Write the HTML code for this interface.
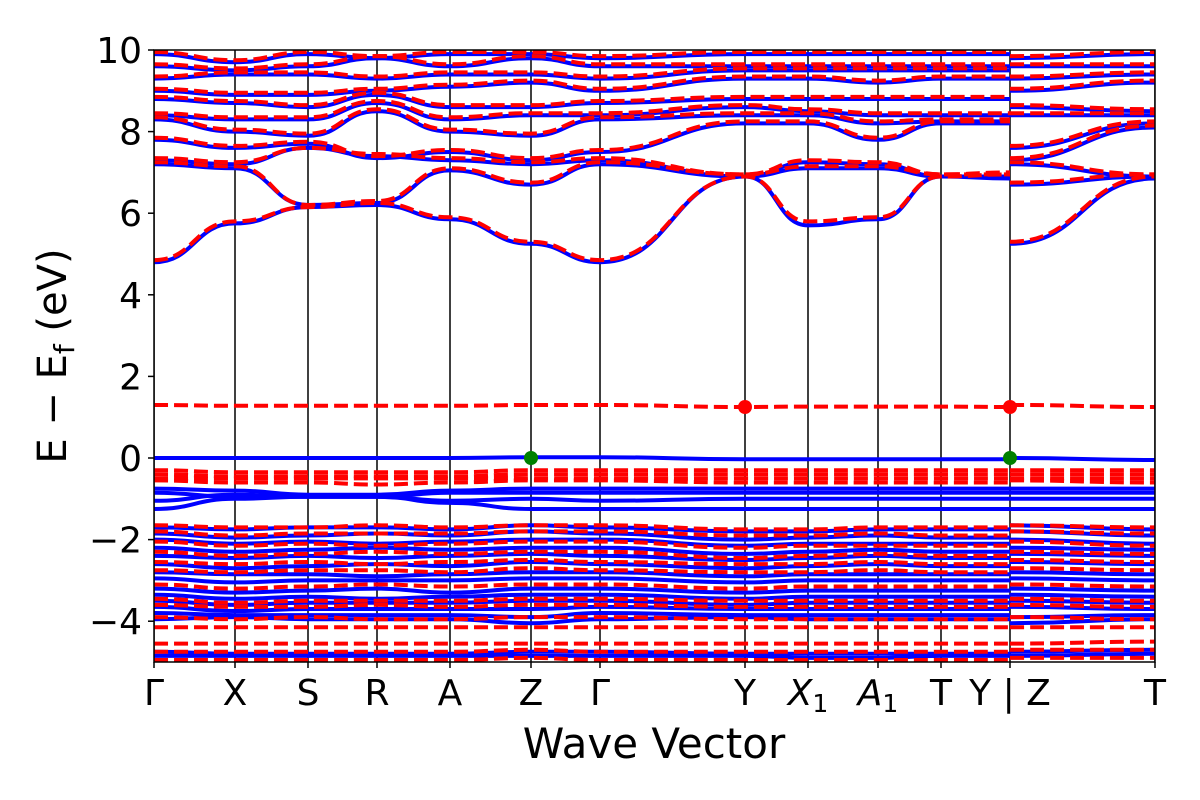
<!DOCTYPE html>
<html><head><meta charset="utf-8">
<style>
html,body{margin:0;padding:0;background:#fff;}
svg{display:block;font-family:"DejaVu Sans","Liberation Sans",sans-serif;}
</style></head>
<body>
<svg id="chart" width="1200" height="800" viewBox="0 0 1200 800" xmlns="http://www.w3.org/2000/svg">
<defs><clipPath id="clip"><rect x="154" y="50" width="1001" height="612"/></clipPath></defs>
<g id="plot" clip-path="url(#clip)"></g>
<g id="axes"></g>
</svg>
<script>
// k-path coordinates (path distance) for high-symmetry points; first 12 up to Y, then Z,T segment
const kLabels = ["Γ","X","S","R","A","Z","Γ","Y","X1","A1","T","Y | Z","T"];
const kPos = [0,0.81,1.54,2.23,2.96,3.77,4.46,5.91,6.54,7.24,7.87,8.56,10.01];
const yTicks = [-4,-2,0,2,4,6,8,10];
// bands: 12 values (Γ..Y) + 2 values (Z,T)
const blueBands = [
[4.8,5.75,6.15,6.2,5.85,5.25,4.8,6.9,5.7,5.85,6.9,6.85,5.25,6.85],
[7.2,7.1,6.2,6.25,7.05,6.7,7.2,6.9,7.1,7.1,6.9,6.9,6.7,6.9],
[7.3,7.2,7.6,7.4,7.3,7.2,7.3,6.9,7.25,7.2,6.9,6.9,7.2,6.9],
[7.8,7.6,7.7,7.35,7.5,7.3,7.5,8.2,8.2,7.8,8.2,8.2,7.3,8.1],
[8.3,8.0,7.9,8.5,8.0,7.9,8.3,8.4,8.4,8.2,8.25,8.25,7.6,8.2],
[8.4,8.3,8.3,8.7,8.3,8.4,8.4,8.6,8.5,8.4,8.4,8.4,8.4,8.4],
[8.8,8.7,8.6,8.9,8.6,8.6,8.7,8.8,8.8,8.8,8.8,8.8,8.6,8.5],
[9.0,8.9,8.9,9.0,9.1,9.2,9.0,9.3,9.3,9.2,9.3,9.3,9.0,9.2],
[9.3,9.4,9.4,9.3,9.4,9.4,9.3,9.5,9.5,9.5,9.5,9.5,9.3,9.4],
[9.6,9.5,9.6,9.8,9.6,9.8,9.6,9.6,9.6,9.6,9.6,9.6,9.6,9.6],
[9.9,9.7,9.9,9.8,9.9,9.9,9.8,9.9,9.9,9.9,9.9,9.9,9.8,9.9],
[0,0,0,0,0,0.02,0.02,-0.03,-0.03,-0.03,-0.03,-0.03,0,-0.05],
[-0.75,-0.8,-0.9,-0.9,-0.8,-0.75,-0.75,-0.75,-0.75,-0.75,-0.75,-0.75,-0.75,-0.75],
[-0.85,-0.95,-0.95,-0.95,-0.85,-0.85,-0.85,-0.85,-0.85,-0.85,-0.85,-0.85,-0.85,-0.85],
[-1.05,-0.9,-0.95,-0.95,-1.05,-1.0,-1.05,-1.0,-1.0,-1.0,-1.0,-1.0,-1.0,-1.0],
[-1.25,-1.0,-0.95,-0.95,-1.1,-1.25,-1.25,-1.25,-1.25,-1.25,-1.25,-1.25,-1.25,-1.25],
[-1.7,-1.75,-1.7,-1.7,-1.75,-1.65,-1.7,-1.8,-1.8,-1.75,-1.75,-1.75,-1.65,-1.75],
[-1.85,-1.95,-1.9,-1.85,-1.9,-1.8,-1.85,-2.0,-1.95,-1.9,-1.95,-1.95,-1.8,-1.9],
[-2.0,-2.1,-2.05,-2.1,-2.05,-2.0,-2.0,-2.15,-2.1,-2.1,-2.1,-2.1,-2.0,-2.1],
[-2.2,-2.3,-2.25,-2.2,-2.25,-2.2,-2.2,-2.35,-2.3,-2.25,-2.3,-2.3,-2.2,-2.25],
[-2.4,-2.45,-2.4,-2.45,-2.4,-2.35,-2.4,-2.5,-2.45,-2.4,-2.45,-2.45,-2.35,-2.4],
[-2.6,-2.7,-2.65,-2.6,-2.65,-2.55,-2.6,-2.7,-2.65,-2.6,-2.65,-2.65,-2.55,-2.6],
[-2.8,-2.85,-2.85,-2.9,-2.85,-2.8,-2.8,-2.9,-2.85,-2.85,-2.85,-2.85,-2.8,-2.85],
[-2.95,-3.05,-3.0,-3.0,-3.0,-2.95,-2.95,-3.05,-3.0,-3.0,-3.0,-3.0,-2.95,-3.0],
[-3.2,-3.3,-3.25,-3.2,-3.3,-3.2,-3.2,-3.3,-3.25,-3.25,-3.25,-3.25,-3.2,-3.25],
[-3.35,-3.45,-3.4,-3.45,-3.4,-3.35,-3.35,-3.45,-3.4,-3.4,-3.4,-3.4,-3.35,-3.4],
[-3.5,-3.6,-3.55,-3.55,-3.55,-3.5,-3.5,-3.6,-3.55,-3.55,-3.55,-3.55,-3.5,-3.55],
[-3.65,-3.75,-3.7,-3.7,-3.7,-3.7,-3.65,-3.7,-3.7,-3.7,-3.7,-3.7,-3.65,-3.7],
[-3.8,-3.85,-3.85,-3.85,-3.85,-3.9,-3.8,-3.85,-3.85,-3.85,-3.85,-3.85,-3.9,-3.85],
[-3.95,-3.9,-3.95,-3.95,-3.95,-4.05,-3.95,-3.9,-3.95,-3.95,-3.95,-3.95,-4.05,-3.95],
[-4.75,-4.8,-4.8,-4.8,-4.8,-4.75,-4.75,-4.8,-4.8,-4.8,-4.8,-4.8,-4.75,-4.7],
[-4.85,-4.85,-4.85,-4.85,-4.85,-4.85,-4.85,-4.85,-4.9,-4.9,-4.85,-4.85,-4.85,-4.8]
];
const redBands = [
[4.85,5.8,6.15,6.25,5.9,5.3,4.85,6.9,5.8,5.9,6.9,6.95,5.3,6.9],
[7.25,7.15,6.2,6.3,7.1,6.75,7.25,6.95,7.15,7.15,6.95,6.95,6.75,6.95],
[7.35,7.25,7.6,7.45,7.35,7.25,7.35,6.95,7.3,7.25,6.95,7.0,7.25,6.95],
[7.85,7.65,7.75,7.4,7.55,7.35,7.55,8.25,8.25,7.85,8.25,8.25,7.35,8.15],
[8.35,8.05,7.95,8.55,8.05,7.95,8.35,8.45,8.45,8.25,8.3,8.3,7.65,8.25],
[8.45,8.35,8.35,8.75,8.35,8.45,8.45,8.65,8.55,8.45,8.45,8.45,8.45,8.45],
[8.85,8.75,8.65,8.95,8.65,8.65,8.75,8.85,8.85,8.85,8.85,8.85,8.65,8.55],
[9.05,8.95,8.95,9.05,9.15,9.25,9.05,9.35,9.35,9.25,9.35,9.35,9.05,9.25],
[9.35,9.45,9.45,9.35,9.45,9.45,9.35,9.55,9.55,9.55,9.55,9.55,9.35,9.45],
[9.65,9.55,9.65,9.85,9.65,9.85,9.65,9.65,9.65,9.65,9.65,9.65,9.65,9.65],
[9.95,9.75,9.95,9.85,9.95,9.95,9.85,9.95,9.95,9.95,9.95,9.95,9.85,9.95],
[1.3,1.28,1.28,1.28,1.28,1.3,1.3,1.25,1.26,1.26,1.26,1.25,1.3,1.25],
[-0.3,-0.35,-0.35,-0.35,-0.35,-0.3,-0.3,-0.3,-0.3,-0.3,-0.3,-0.3,-0.3,-0.3],
[-0.4,-0.45,-0.45,-0.45,-0.45,-0.4,-0.4,-0.4,-0.4,-0.4,-0.4,-0.4,-0.4,-0.4],
[-0.5,-0.5,-0.5,-0.5,-0.5,-0.5,-0.5,-0.5,-0.5,-0.5,-0.5,-0.5,-0.5,-0.5],
[-0.55,-0.6,-0.6,-0.65,-0.6,-0.55,-0.55,-0.6,-0.6,-0.6,-0.6,-0.6,-0.55,-0.6],
[-1.65,-1.7,-1.7,-1.65,-1.7,-1.65,-1.65,-1.75,-1.75,-1.7,-1.7,-1.7,-1.65,-1.7],
[-1.8,-1.9,-1.85,-1.85,-1.85,-1.8,-1.8,-1.9,-1.9,-1.85,-1.9,-1.9,-1.8,-1.85],
[-2.05,-2.15,-2.1,-2.15,-2.1,-2.05,-2.05,-2.2,-2.15,-2.15,-2.15,-2.15,-2.05,-2.15],
[-2.3,-2.4,-2.35,-2.3,-2.35,-2.3,-2.3,-2.45,-2.4,-2.35,-2.4,-2.4,-2.3,-2.35],
[-2.55,-2.6,-2.55,-2.6,-2.55,-2.5,-2.55,-2.6,-2.6,-2.55,-2.6,-2.6,-2.5,-2.55],
[-2.75,-2.8,-2.75,-2.75,-2.8,-2.7,-2.75,-2.8,-2.8,-2.75,-2.8,-2.8,-2.7,-2.75],
[-3.1,-3.2,-3.15,-3.1,-3.15,-3.1,-3.1,-3.2,-3.15,-3.15,-3.15,-3.15,-3.1,-3.15],
[-3.45,-3.55,-3.5,-3.5,-3.5,-3.45,-3.45,-3.5,-3.5,-3.5,-3.5,-3.5,-3.45,-3.5],
[-3.6,-3.65,-3.65,-3.6,-3.65,-3.6,-3.6,-3.65,-3.65,-3.65,-3.65,-3.65,-3.6,-3.65],
[-3.9,-3.95,-3.9,-3.95,-3.95,-3.9,-3.9,-3.95,-3.95,-3.95,-3.95,-3.95,-3.9,-3.95],
[-4.15,-4.15,-4.15,-4.15,-4.15,-4.15,-4.15,-4.15,-4.15,-4.15,-4.15,-4.15,-4.15,-4.15],
[-4.55,-4.55,-4.55,-4.55,-4.55,-4.55,-4.55,-4.55,-4.55,-4.55,-4.55,-4.55,-4.55,-4.5],
[-4.75,-4.75,-4.75,-4.75,-4.75,-4.7,-4.75,-4.75,-4.75,-4.75,-4.75,-4.75,-4.7,-4.7],
[-4.95,-4.95,-4.95,-4.95,-4.95,-4.9,-4.95,-4.95,-4.95,-4.95,-4.95,-4.95,-4.9,-4.9]
];
const vbmK = [5, 11]; // green points (index in kPos), energy 0
const cbmK = [7, 11]; // red points
const vbmE = [0, 0];
const cbmE = [1.25, 1.25];

const X0=154,X1=1155,Y0=50,Y1=662,EMIN=-5,EMAX=10;
const xs=k=>X0+(k-kPos[0])/(kPos[kPos.length-1]-kPos[0])*(X1-X0);
const ys=e=>Y0+(EMAX-e)/(EMAX-EMIN)*(Y1-Y0);
const NS="http://www.w3.org/2000/svg";
const plot=document.getElementById('plot'), axes=document.getElementById('axes');
function mk(tag,attrs,parent){const el=document.createElementNS(NS,tag);for(const a in attrs)el.setAttribute(a,attrs[a]);parent.appendChild(el);return el;}
function segPath(ks,es){let d=`M${xs(ks[0]).toFixed(1)},${ys(es[0]).toFixed(1)}`;
 for(let i=1;i<ks.length;i++){const xa=xs(ks[i-1]),xb=xs(ks[i]),ya=ys(es[i-1]),yb=ys(es[i]),m=(xa+xb)/2;
  d+=` C${m.toFixed(1)},${ya.toFixed(1)} ${m.toFixed(1)},${yb.toFixed(1)} ${xb.toFixed(1)},${yb.toFixed(1)}`;}
 return d;}
function bandPath(b){return segPath(kPos.slice(0,12),b.slice(0,12))+" "+segPath(kPos.slice(11,13),b.slice(12,14));}
kPos.forEach((k,i)=>{const l=mk('line',{x1:xs(k),x2:xs(k),y1:Y0,y2:Y1,stroke:'#000','stroke-width':1.5},plot);
 
 });
blueBands.forEach(b=>{const p=mk('path',{d:bandPath(b),fill:'none',stroke:'#0000ff','stroke-width':4},plot);
 
 });
redBands.forEach(b=>{const p=mk('path',{d:bandPath(b),fill:'none',stroke:'#ff0000','stroke-width':4,'stroke-dasharray':'14,6'},plot);
 
 });
vbmK.forEach((k,i)=>{const c=mk('circle',{cx:xs(kPos[k]),cy:ys(vbmE[i]),r:7,fill:'#008000'},plot);
 
 });
cbmK.forEach((k,i)=>{const c=mk('circle',{cx:xs(kPos[k]),cy:ys(cbmE[i]),r:7,fill:'#ff0000'},plot);
 
 });
const fr=mk('rect',{x:X0,y:Y0,width:X1-X0,height:Y1-Y0,fill:'none',stroke:'#000','stroke-width':1.5},axes);


yTicks.forEach(t=>{const y=ys(t);
 const tk=mk('line',{x1:X0-6,x2:X0,y1:y,y2:y,stroke:'#000','stroke-width':1.5},axes);
 
 
 const tx=mk('text',{x:X0-12,y:y+13,'text-anchor':'end','font-size':36,fill:'#000'},axes);
 tx.textContent=t<0?'−'+Math.abs(t):String(t);
 
 });
kLabels.forEach((lab,i)=>{const x=xs(kPos[i]);
 const tk=mk('line',{x1:x,x2:x,y1:Y1,y2:Y1+6,stroke:'#000','stroke-width':1.5},axes);
 
 
 const tx=mk('text',{x:x,y:705,'text-anchor':'middle','font-size':36,fill:'#000'},axes);
 if(lab==='X1'||lab==='A1'){const s1=mk('tspan',{'font-style':'italic'},tx);s1.textContent=lab[0];
  const s2=mk('tspan',{'font-size':25,dy:7},tx);s2.textContent='1';}
 else tx.textContent=lab;
 
 });
const xt=mk('text',{x:654,y:758,'text-anchor':'middle','font-size':42,fill:'#000'},axes);
xt.textContent='Wave Vector';


const yt=mk('text',{x:0,y:0,'text-anchor':'middle','font-size':40,fill:'#000',transform:'translate(66,356) rotate(-90)'},axes);
yt.innerHTML='E − E<tspan font-size="28" dy="8">f</tspan><tspan dy="-8"> (eV)</tspan>';


</script>
</body></html>
